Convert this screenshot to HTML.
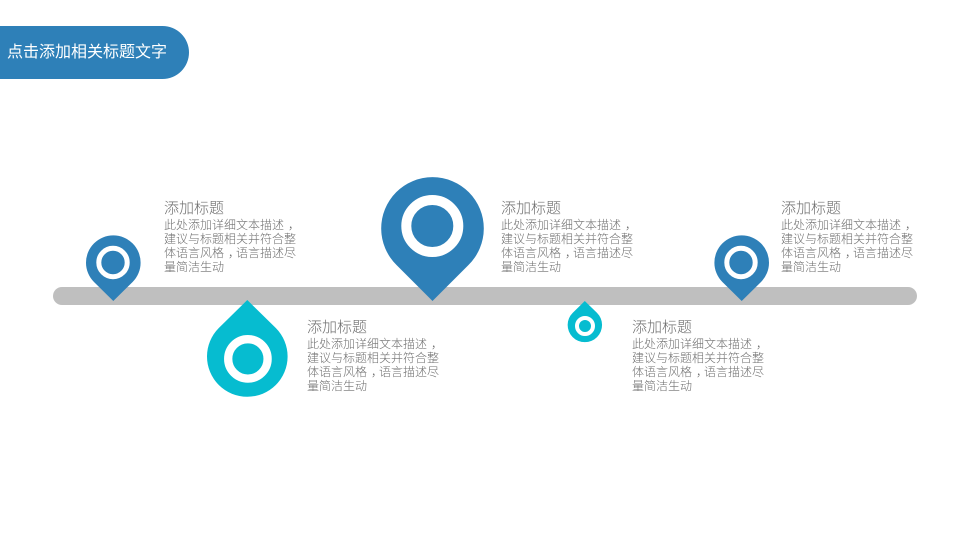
<!DOCTYPE html>
<html lang="zh">
<head>
<meta charset="utf-8">
<style>
html,body{margin:0;padding:0;background:#fff}
#s{position:relative;width:960px;height:540px;overflow:hidden;background:#fff;font-family:"Liberation Sans","Noto Sans CJK SC",sans-serif}
svg{position:absolute;left:0;top:0}
.t{position:absolute;width:150px;color:#6e6e6e;font-weight:300}
.t b{display:block;font-weight:300;font-size:15px;line-height:18px;height:17.500px;white-space:nowrap}
.t span{display:block;font-size:12px;line-height:14.200px;white-space:nowrap}
.t i{display:inline-block;font-style:normal;transform:translateX(4px)}
#h{position:absolute;left:7px;top:42.500px;font-size:16px;line-height:20px;color:#fff;white-space:nowrap;font-weight:400}
</style>
</head>
<body>
<div id="s">
<svg width="960" height="540" viewBox="0 0 960 540">
<path d="M0 26H162.500A26.500 26.500 0 0 1 162.500 79H0Z" fill="#2e80b8"/>
<rect x="53" y="287" width="864" height="18" rx="9" fill="#bfbfbf"/>
<path d="M113.300 301L94 282A27.300 27.300 0 1 1 132.600 282Z" fill="#2e80b8"/>
<circle cx="113" cy="262.500" r="14.200" fill="#2e80b8" stroke="#fff" stroke-width="5"/>
<path d="M432.500 301L396.500 265A51.300 51.300 0 1 1 468.500 265Z" fill="#2e80b8"/>
<circle cx="432.300" cy="226" r="26" fill="#2e80b8" stroke="#fff" stroke-width="10"/>
<path d="M741.700 301L722.400 282A27.300 27.300 0 1 1 761 282Z" fill="#2e80b8"/>
<circle cx="741" cy="262.500" r="14.200" fill="#2e80b8" stroke="#fff" stroke-width="5"/>
<path d="M247.300 300L218.800 328A40.300 40.300 0 1 0 275.800 328Z" fill="#06bcd0"/>
<circle cx="247.900" cy="358.900" r="19.700" fill="#06bcd0" stroke="#fff" stroke-width="8.300"/>
<path d="M584.800 301L572.800 312.700A17.200 17.200 0 1 0 596.900 312.700Z" fill="#06bcd0"/>
<circle cx="585" cy="326" r="8" fill="#06bcd0" stroke="#fff" stroke-width="4"/>
</svg>
<div id="h">点击添加相关标题文字</div>
<div class="t" style="left:164px;top:200px"><b>添加标题</b><span>此处添加详细文本描述<i>，</i></span><span>建议与标题相关并符合整</span><span>体语言风格<i>，</i>语言描述尽</span><span>量简洁生动</span></div>
<div class="t" style="left:501px;top:200px"><b>添加标题</b><span>此处添加详细文本描述<i>，</i></span><span>建议与标题相关并符合整</span><span>体语言风格<i>，</i>语言描述尽</span><span>量简洁生动</span></div>
<div class="t" style="left:781px;top:200px"><b>添加标题</b><span>此处添加详细文本描述<i>，</i></span><span>建议与标题相关并符合整</span><span>体语言风格<i>，</i>语言描述尽</span><span>量简洁生动</span></div>
<div class="t" style="left:307px;top:319px"><b>添加标题</b><span>此处添加详细文本描述<i>，</i></span><span>建议与标题相关并符合整</span><span>体语言风格<i>，</i>语言描述尽</span><span>量简洁生动</span></div>
<div class="t" style="left:632px;top:319px"><b>添加标题</b><span>此处添加详细文本描述<i>，</i></span><span>建议与标题相关并符合整</span><span>体语言风格<i>，</i>语言描述尽</span><span>量简洁生动</span></div>
</div>
</body>
</html>
